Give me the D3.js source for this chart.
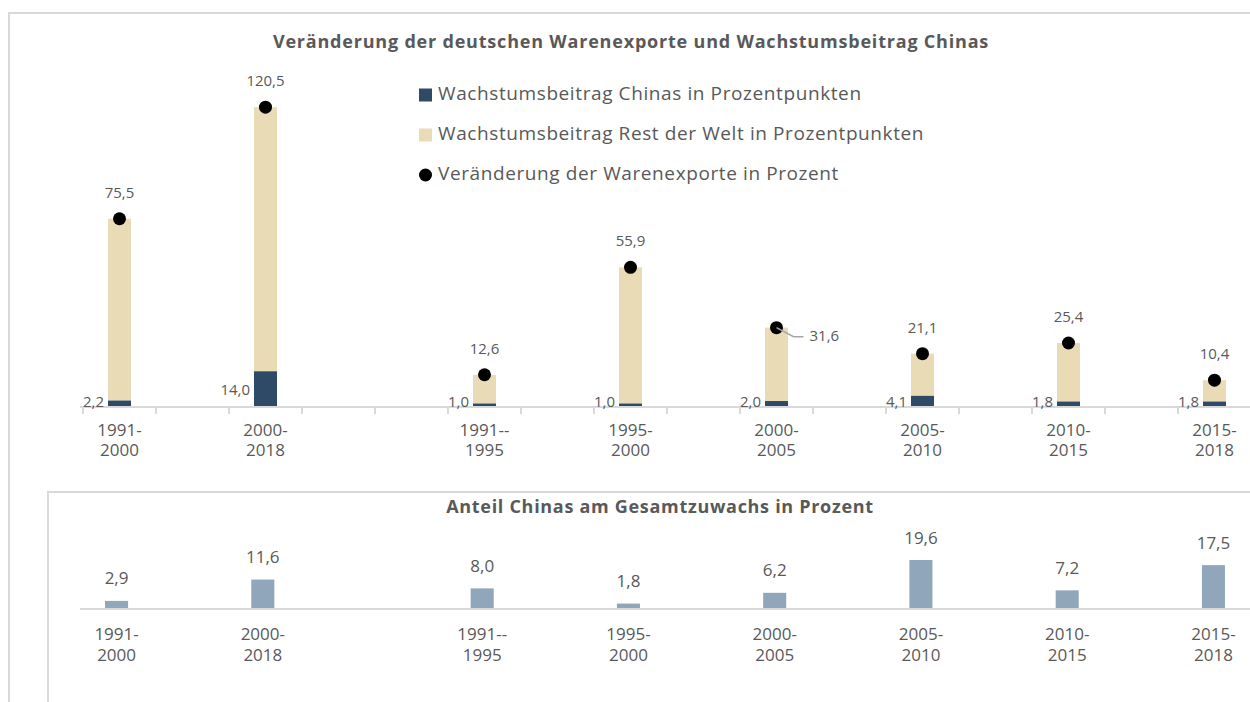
<!DOCTYPE html>
<html>
<head>
<meta charset="utf-8">
<script src="https://cdn.jsdelivr.net/npm/d3@7"></script>
<style>
  body { margin: 0; background: #fff; }
  text { font-family: "Open Sans", sans-serif; fill: #595959; }
</style>
</head>
<body>
<svg id="chart" width="1250" height="702"></svg>
<script>
// x slots as in the original sheet: the "gap" keys are empty spacer categories
const slots = ["1991-2000", "gap1", "2000-2018", "gap3", "gap4", "1991--1995", "gap6", "1995-2000",
  "gap8", "2000-2005", "gap10", "2005-2010", "gap12", "2010-2015", "gap14", "2015-2018"];
const periods = ["1991-2000", "2000-2018", "1991--1995", "1995-2000", "2000-2005", "2005-2010", "2010-2015", "2015-2018"];
const periodLines = [["1991-", "2000"], ["2000-", "2018"], ["1991--", "1995"], ["1995-", "2000"],
  ["2000-", "2005"], ["2005-", "2010"], ["2010-", "2015"], ["2015-", "2018"]];
// Wachstumsbeitrag Chinas (Prozentpunkte)
const chinaContribution = [2.2, 14.0, 1.0, 1.0, 2.0, 4.1, 1.8, 1.8];
// Veraenderung der Warenexporte (Prozent) = total bar height
const exportChange = [75.5, 120.5, 12.6, 55.9, 31.6, 21.1, 25.4, 10.4];
// Anteil Chinas am Gesamtzuwachs (Prozent)
const chinaShare = [2.9, 11.6, 8.0, 1.8, 6.2, 19.6, 7.2, 17.5];
// the one label that Excel put beside its dot
const sideLabelPeriods = ["2000-2005"];

const titleTop = "Veränderung der deutschen Warenexporte und Wachstumsbeitrag Chinas";
const titleBottom = "Anteil Chinas am Gesamtzuwachs in Prozent";
const legendLabels = ["Wachstumsbeitrag Chinas in Prozentpunkten",
  "Wachstumsbeitrag Rest der Welt in Prozentpunkten",
  "Veränderung der Warenexporte in Prozent"];

const colors = { china: "#2e4a66", rest: "#e9dbb6", dot: "#000", share: "#8fa6bb", grid: "#d9d9d9", text: "#595959" };

const de = d3.formatLocale({ decimal: ",", thousands: ".", grouping: [3], currency: ["", " €"] });
const fmt = de.format(".1f");

const rows = periods.map((p, i) => ({
  period: p,
  lines: periodLines[i],
  china: chinaContribution[i],
  total: exportChange[i],
  rest: exportChange[i] - chinaContribution[i],
  share: chinaShare[i]
}));

const svg = d3.select("#chart");

// frames
svg.append("path").attr("d", "M9,702 V13 H1250")
  .attr("fill", "none").attr("stroke", colors.grid).attr("stroke-width", 2);
svg.append("path").attr("d", "M48,702 V492 H1250")
  .attr("fill", "none").attr("stroke", colors.grid).attr("stroke-width", 2);

// ---------- top chart ----------
const x = d3.scaleBand().domain(slots).range([83, 1251]).paddingInner(0.685).paddingOuter(0.3425);
const y = d3.scaleLinear().domain([0, 130]).range([406, 406 - 130 * 2.48]);
const step = x.step();
const bw = x.bandwidth();

svg.append("text").attr("x", 631).attr("y", 43).attr("text-anchor", "middle")
  .attr("dominant-baseline", "middle").attr("font-size", 18).attr("letter-spacing", 0.8)
  .attr("font-weight", "bold").text(titleTop);

const upper = svg.append("g");
upper.selectAll("rect.rest").data(rows).join("rect").attr("class", "rest")
  .attr("x", d => x(d.period)).attr("width", bw)
  .attr("y", d => y(d.total)).attr("height", d => y(d.china) - y(d.total))
  .attr("fill", colors.rest);
upper.selectAll("rect.china").data(rows).join("rect").attr("class", "china")
  .attr("x", d => x(d.period)).attr("width", bw)
  .attr("y", d => y(d.china)).attr("height", d => y(0) - y(d.china))
  .attr("fill", colors.china);

// axis line and ticks between slots
const ax = upper.append("g");
ax.append("line").attr("x1", 80).attr("x2", 1250).attr("y1", y(0) + 1).attr("y2", y(0) + 1)
  .attr("stroke", colors.grid).attr("stroke-width", 2);
ax.selectAll("line.tick").data(slots).join("line").attr("class", "tick")
  .attr("x1", d => x(d) - (step - bw) / 2).attr("x2", d => x(d) - (step - bw) / 2)
  .attr("y1", y(0)).attr("y2", y(0) + 8).attr("stroke", colors.grid).attr("stroke-width", 2);

upper.selectAll("text.xlab").data(rows).join("text").attr("class", "xlab")
  .attr("text-anchor", "middle").attr("font-size", 17)
  .attr("transform", d => `translate(${x(d.period) + bw / 2},${y(0) + 25})`)
  .selectAll("tspan").data(d => d.lines).join("tspan")
  .attr("x", 0).attr("dy", (d, i) => i ? 20 : 5).text(d => d);

// china labels left of the bar base
upper.selectAll("text.clab").data(rows).join("text").attr("class", "clab")
  .attr("x", d => x(d.period) - 4)
  .attr("y", d => Math.min((y(0) + y(d.china)) / 2 + 2, y(0) - 3))
  .attr("text-anchor", "end").attr("dominant-baseline", "middle").attr("font-size", 15)
  .text(d => fmt(d.china));

// dots for the total change
upper.selectAll("circle.dot").data(rows).join("circle").attr("class", "dot")
  .attr("cx", d => x(d.period) + bw / 2).attr("cy", d => y(d.total)).attr("r", 6.5)
  .attr("fill", colors.dot);

const above = rows.filter(d => !sideLabelPeriods.includes(d.period));
const beside = rows.filter(d => sideLabelPeriods.includes(d.period));
upper.selectAll("text.tlab").data(above).join("text").attr("class", "tlab")
  .attr("x", d => x(d.period) + bw / 2).attr("y", d => y(d.total) - 25)
  .attr("text-anchor", "middle").attr("dominant-baseline", "middle").attr("font-size", 15)
  .text(d => fmt(d.total));
beside.forEach(d => {
  const cx = x(d.period) + bw / 2, cy = y(d.total);
  upper.append("path").attr("d", `M${cx},${cy} L${cx + 17},${cy + 9} H${cx + 27}`)
    .attr("fill", "none").attr("stroke", "#a6a6a6").attr("stroke-width", 1.5);
  upper.append("text").attr("x", cx + 33).attr("y", cy + 9).attr("dominant-baseline", "middle")
    .attr("font-size", 15).text(fmt(d.total));
});

// legend
const legend = svg.append("g").attr("transform", "translate(419,95)");
legendLabels.forEach((lab, i) => {
  const g = legend.append("g").attr("transform", `translate(0,${i * 40})`);
  if (i === 0) g.append("rect").attr("x", 0).attr("y", -6.5).attr("width", 13).attr("height", 13).attr("fill", colors.china);
  if (i === 1) g.append("rect").attr("x", 0).attr("y", -6.5).attr("width", 13).attr("height", 13).attr("fill", colors.rest);
  if (i === 2) g.append("circle").attr("cx", 6.5).attr("cy", 0).attr("r", 6.5).attr("fill", colors.dot);
  g.append("text").attr("x", 19).attr("y", 0).attr("dominant-baseline", "middle")
    .attr("font-size", 19).attr("letter-spacing", 0.6).text(lab);
});

// ---------- bottom chart ----------
const x2 = d3.scaleBand().domain(slots).range([80, 1250]).paddingInner(0.685).paddingOuter(0.3425);
const y2 = d3.scaleLinear().domain([0, 20]).range([608, 608 - 20 * 2.45]);
const bw2 = x2.bandwidth();

svg.append("text").attr("x", 660).attr("y", 508).attr("text-anchor", "middle")
  .attr("dominant-baseline", "middle").attr("font-size", 18).attr("letter-spacing", 0.7)
  .attr("font-weight", "bold").text(titleBottom);

const lower = svg.append("g");
lower.selectAll("rect").data(rows).join("rect")
  .attr("x", d => x2(d.period)).attr("width", bw2)
  .attr("y", d => y2(d.share)).attr("height", d => y2(0) - y2(d.share))
  .attr("fill", colors.share);
lower.append("line").attr("x1", 80).attr("x2", 1250).attr("y1", y2(0) + 1).attr("y2", y2(0) + 1)
  .attr("stroke", colors.grid).attr("stroke-width", 2);
lower.selectAll("text.vlab").data(rows).join("text").attr("class", "vlab")
  .attr("x", d => x2(d.period) + bw2 / 2).attr("y", d => y2(d.share) - 21)
  .attr("text-anchor", "middle").attr("dominant-baseline", "middle").attr("font-size", 17)
  .text(d => fmt(d.share));
lower.selectAll("text.xlab").data(rows).join("text").attr("class", "xlab")
  .attr("text-anchor", "middle").attr("font-size", 17)
  .attr("transform", d => `translate(${x2(d.period) + bw2 / 2},${y2(0) + 26})`)
  .selectAll("tspan").data(d => d.lines).join("tspan")
  .attr("x", 0).attr("dy", (d, i) => i ? 21 : 6).text(d => d);
</script>
</body>
</html>
